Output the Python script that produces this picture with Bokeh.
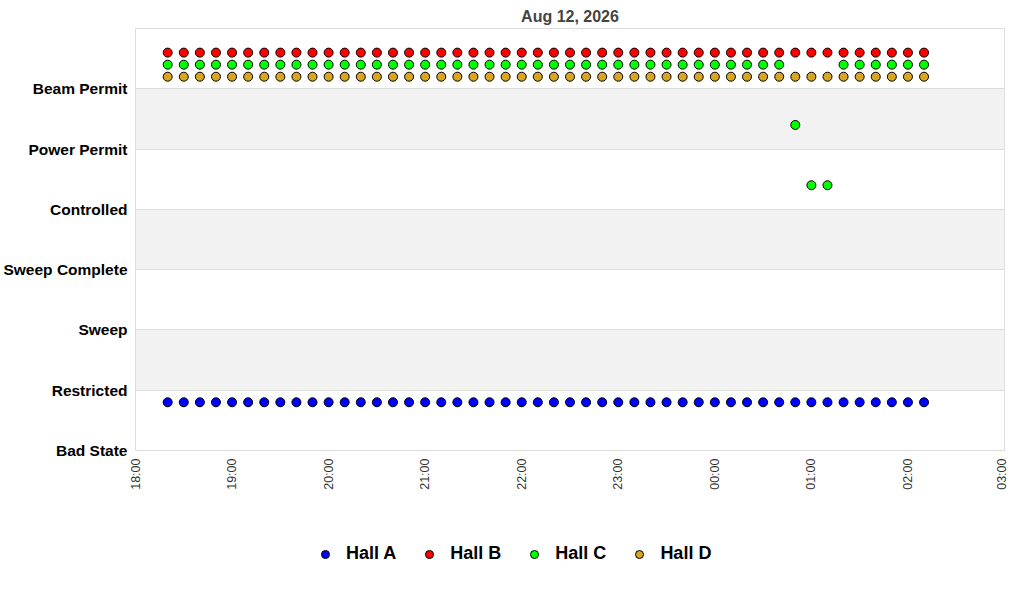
import math

import pandas as pd
from bokeh.embed import file_html
from bokeh.layouts import column
from bokeh.models import (ColumnDataSource, DatetimeTickFormatter, FixedTicker,
                          Legend, LegendItem, Range1d)
from bokeh.plotting import figure
from bokeh.resources import INLINE
from bokeh.transform import dodge

FONT = "Liberation Sans"

# state names, index = numeric level
states = ["Bad State", "Restricted", "Sweep", "Sweep Complete",
          "Controlled", "Power Permit", "Beam Permit"]

# sample times (evening of Aug 11 into Aug 12)
times = ["18:20", "18:30", "18:40", "18:50", "19:00", "19:10", "19:20", "19:30",
         "19:40", "19:50", "20:00", "20:10", "20:20", "20:30", "20:40", "20:50",
         "21:00", "21:10", "21:20", "21:30", "21:40", "21:50", "22:00", "22:10",
         "22:20", "22:30", "22:40", "22:50", "23:00", "23:10", "23:20", "23:30",
         "23:40", "23:50", "00:00", "00:10", "00:20", "00:30", "00:40", "00:50",
         "01:00", "01:10", "01:20", "01:30", "01:40", "01:50", "02:00", "02:10"]

hall_a = [0] * 48
hall_b = [6] * 48
hall_c = [6] * 39 + [5, 4, 4] + [6] * 6
hall_d = [6] * 48

halls = ["Hall A", "Hall B", "Hall C", "Hall D"]
colors = ["#0000ff", "#ff0000", "#00ff00", "#daa520"]
offsets = [0.8, 0.6, 0.4, 0.2]


def to_dt(t):
    day = "2026-08-12" if int(t[:2]) < 12 else "2026-08-11"
    return pd.Timestamp(f"{day} {t}")


dts = [to_dt(t) for t in times]
x_start = pd.Timestamp("2026-08-11 18:00")
x_end = pd.Timestamp("2026-08-12 03:00")

p = figure(frame_width=869, frame_height=422, x_axis_type="datetime",
           x_range=Range1d(x_start, x_end), y_range=Range1d(0, 7),
           title="Aug 12, 2026", toolbar_location=None, tools="",
           output_backend="svg", min_border_left=135, min_border_right=4,
           min_border_top=28, min_border_bottom=60)

p.title.align = "center"
p.title.text_font = FONT
p.title.text_font_size = "16px"
p.title.text_color = "#444444"
p.title.text_font_style = "bold"
p.title.standoff = 8

p.outline_line_color = "#dddddd"
p.background_fill_color = "white"

# y axis with state names
p.yaxis.ticker = FixedTicker(ticks=list(range(len(states))))
p.yaxis.major_label_overrides = {i: s for i, s in enumerate(states)}
p.yaxis.major_label_text_font = FONT
p.yaxis.major_label_text_font_style = "bold"
p.yaxis.major_label_text_font_size = "15.5px"
p.yaxis.major_label_text_color = "black"
p.yaxis.axis_line_color = "#dddddd"
p.yaxis.major_tick_line_color = None
p.yaxis.minor_tick_line_color = None
p.yaxis.major_tick_out = 0
p.yaxis.major_label_standoff = 8

p.ygrid.ticker = FixedTicker(ticks=list(range(len(states))))
p.ygrid.grid_line_color = "#dddddd"
p.ygrid.band_fill_color = "#f2f2f2"
p.ygrid.band_fill_alpha = 1.0
p.xgrid.grid_line_color = None

# x axis, hourly
hour_ticks = [(x_start + pd.Timedelta(hours=h)).value / 1e6 for h in range(10)]
p.xaxis.ticker = FixedTicker(ticks=hour_ticks)
p.xaxis.formatter = DatetimeTickFormatter(hours="%H:%M", days="%H:%M",
                                          minutes="%H:%M")
p.xaxis.major_label_orientation = math.pi / 2
p.xaxis.major_label_text_font = FONT
p.xaxis.major_label_text_font_size = "12.5px"
p.xaxis.major_label_text_color = "#333333"
p.xaxis.axis_line_color = "#dddddd"
p.xaxis.major_tick_line_color = None
p.xaxis.minor_tick_line_color = None
p.xaxis.major_tick_out = 0
p.xaxis.major_label_standoff = 8

hall_data = [hall_a, hall_b, hall_c, hall_d]
sources = []
for vals, col, off in zip(hall_data, colors, offsets):
    src = ColumnDataSource(data=dict(t=dts, state=vals))
    sources.append(src)
    p.scatter("t", dodge("state", off, range=p.y_range), source=src,
              size=9, fill_color=col, line_color="black", line_width=1)

# legend strip under the chart: same series again, but its ranges keep the
# points out of view, so only the legend swatches show
leg_fig = figure(width=1008, height=88, x_axis_type=None, y_axis_type=None,
                 x_range=Range1d(0, 1), y_range=Range1d(0, 1),
                 toolbar_location=None, tools="", output_backend="svg",
                 min_border=0, outline_line_color=None)
leg_fig.xgrid.visible = False
leg_fig.ygrid.visible = False
items = []
for name, src, col in zip(halls, sources, colors):
    r = leg_fig.scatter("t", "state", source=src, size=9, fill_color=col,
                        line_color="black", line_width=1)
    items.append(LegendItem(label=name, renderers=[r]))

legend = Legend(items=items, orientation="horizontal", location=(180, 34),
                border_line_color=None, background_fill_alpha=0,
                label_text_font=FONT, label_text_font_style="bold",
                label_text_font_size="18px", label_text_color="black",
                glyph_width=20, glyph_height=20, label_standoff=11,
                spacing=23, margin=0, padding=0)
leg_fig.add_layout(legend)

layout = column(p, leg_fig, spacing=0)
open("out.html", "w").write(file_html(layout, INLINE))
